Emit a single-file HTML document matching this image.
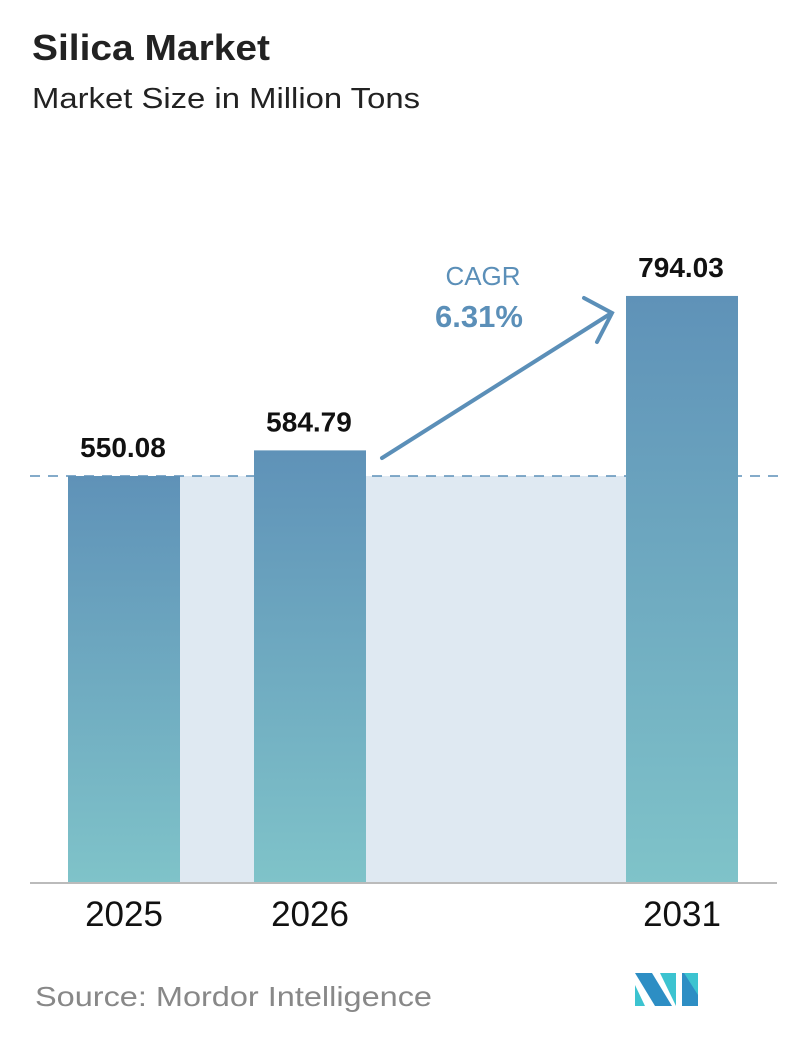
<!DOCTYPE html>
<html><head><meta charset="utf-8"><style>
body{margin:0;background:#fff;width:796px;height:1034px;overflow:hidden;font-family:"Liberation Sans",sans-serif}
</style></head><body>
<svg width="796" height="1034">
<defs><linearGradient id="bg" x1="0" y1="0" x2="0" y2="1"><stop offset="0" stop-color="#5f92b8"/><stop offset="1" stop-color="#7fc3c9"/></linearGradient></defs>
<text x="32" y="60" font-size="36" font-weight="bold" fill="#222" textLength="238" lengthAdjust="spacingAndGlyphs">Silica Market</text>
<text x="32" y="108" font-size="29" fill="#222" textLength="388" lengthAdjust="spacingAndGlyphs">Market Size in Million Tons</text>
<g id="plot"></g>
<text x="483" y="285" font-size="26" fill="#5b8fb8" text-anchor="middle">CAGR</text>
<text x="479" y="327" font-size="31" font-weight="bold" fill="#5b8fb8" text-anchor="middle">6.31%</text>
<g stroke="#5b8fb8" stroke-width="4" fill="none" stroke-linecap="round">
<line x1="382" y1="458" x2="610" y2="314"/><polyline points="584,298 612,313 597,342"/></g>
<text x="35" y="1006" font-size="28" fill="#888" textLength="397" lengthAdjust="spacingAndGlyphs">Source:  Mordor Intelligence</text>
<g>
<polygon points="635,973 652,973 672,1006 655,1006" fill="#2d8ec4"/><polygon points="635,985 645,1006 635,1006" fill="#3cc3d0"/>
<polygon points="660,973 676,973 676,1006" fill="#3cc3d0"/><polygon points="682,973 698,973 698,1006 682,1006" fill="#2d8ec4"/><polygon points="684,973 698,973 698,995" fill="#3cc3d0"/>
</g>
</svg>
<script>
const categories=["2025","2026","2031"];
const values=[550.08,584.79,794.03];
const labels=["550.08","584.79","794.03"];
const base=882, k=406/550.08, xs=[68,254,626], bw=112;
const y=v=>base-v*k;
const ns="http://www.w3.org/2000/svg", g=document.getElementById('plot');
function mk(t,a){const e=document.createElementNS(ns,t);for(const n in a)e.setAttribute(n,a[n]);g.appendChild(e);return e;}
const fill=mk('rect',{x:xs[0],y:y(values[0]),width:xs[2]-xs[0],height:base-y(values[0]),fill:'#dfe9f2'});


const dl=mk('line',{x1:30,x2:780,y1:y(values[0]),y2:y(values[0]),stroke:'#5b8fb8','stroke-width':1.5,'stroke-dasharray':'10,8'});


categories.forEach((c,i)=>{
 const r=mk('rect',{x:xs[i],y:y(values[i]),width:bw,height:base-y(values[i]),fill:'url(#bg)'});
 
 
 const t=mk('text',{x:xs[i]+bw/2-1,y:y(values[i])-19,'font-size':28,'font-weight':'bold','text-anchor':'middle',fill:'#111'});t.textContent=labels[i];
 
 
 const l=mk('text',{x:xs[i]+bw/2,y:base+44,'font-size':35,'text-anchor':'middle',fill:'#111'});l.textContent=c;
 
 
});
const ax=mk('line',{x1:30,x2:777,y1:base+1,y2:base+1,stroke:'#bbb','stroke-width':2});


</script>
</body></html>
